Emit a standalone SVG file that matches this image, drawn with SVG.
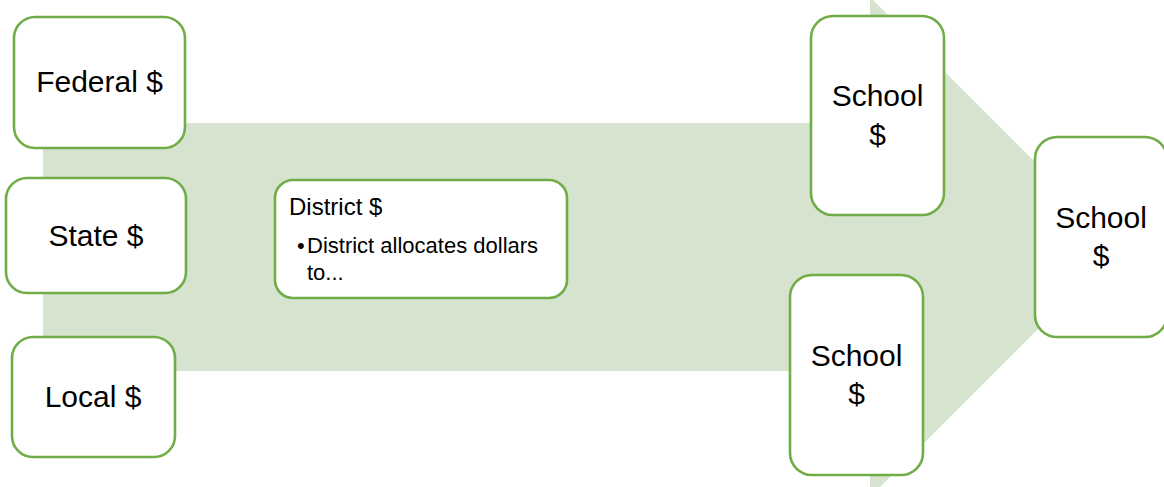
<svg xmlns="http://www.w3.org/2000/svg" width="1164" height="487" viewBox="0 0 1164 487">
<style>
.box{fill:#fff;stroke:#70AD47;stroke-width:2.6}
.big{font-family:"Liberation Sans",Arial,sans-serif;font-size:30px;fill:#000;text-anchor:middle}
.small{font-family:"Liberation Sans",Arial,sans-serif;font-size:22px;fill:#000}
.title{font-family:"Liberation Sans",Arial,sans-serif;font-size:24px;fill:#000}
</style>
<rect width="1164" height="487" fill="#fff"/>
<g id="arrow">
<path d="M43,123 H870 V-3 L1120,247 L870,497 V371 H43 Z" fill="#D6E3CF"/>
</g>
<g id="connectors"></g>
<g id="federal">
<rect class="box" x="14" y="17" width="171" height="131" rx="21"/>
<text class="big" x="99.5" y="92">Federal $</text>
</g>
<g id="state">
<rect class="box" x="6" y="178" width="180" height="115" rx="21"/>
<text class="big" x="96" y="246">State $</text>
</g>
<g id="local">
<rect class="box" x="12" y="337" width="163" height="120" rx="21"/>
<text class="big" x="93" y="407">Local $</text>
</g>
<g id="district">
<rect class="box" x="275" y="180" width="292" height="118" rx="18"/>
<text class="title" x="289" y="215">District $</text>
<text class="small" y="253"><tspan x="297">•</tspan><tspan x="307">District allocates dollars</tspan></text>
<text class="small" x="307" y="280">to...</text>
</g>
<g id="school1">
<rect class="box" x="811" y="16" width="133" height="199" rx="22"/>
<text class="big" x="877.5" y="106">School</text>
<text class="big" x="877.5" y="145">$</text>
</g>
<g id="school2">
<rect class="box" x="1035" y="137" width="132" height="200" rx="22"/>
<text class="big" x="1101" y="228">School</text>
<text class="big" x="1101" y="266">$</text>
</g>
<g id="school3">
<rect class="box" x="790" y="275" width="133" height="200" rx="22"/>
<text class="big" x="856.5" y="366">School</text>
<text class="big" x="856.5" y="404">$</text>
</g>
</svg>
